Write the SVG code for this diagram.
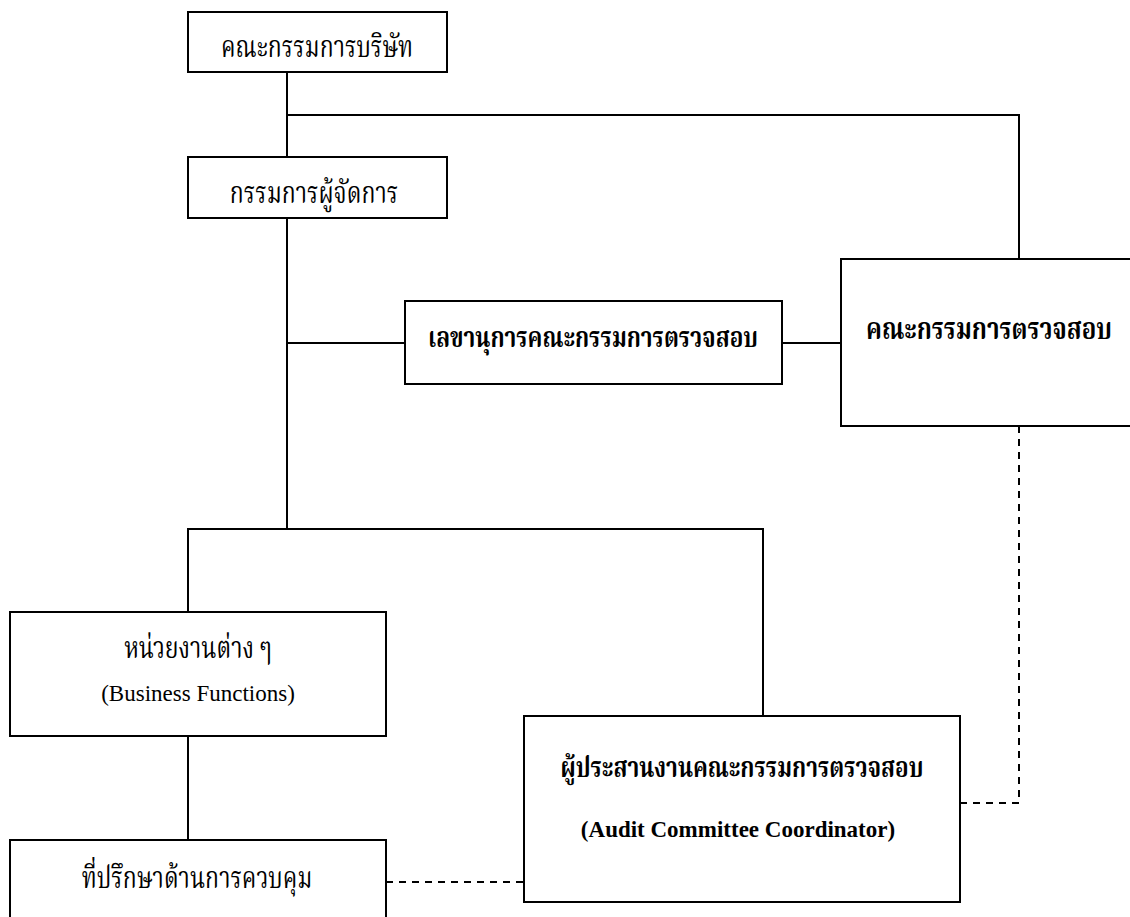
<svg xmlns="http://www.w3.org/2000/svg" width="1130" height="917" viewBox="0 0 1130 917">
<style>
.box{fill:#fff;stroke:#000;stroke-width:2}
.ln{fill:none;stroke:#000;stroke-width:2}
.dash{fill:none;stroke:#000;stroke-width:2;stroke-dasharray:7 6}
.th{font-family:"Liberation Serif","Noto Serif Thai","Noto Sans Thai",serif;font-size:23px;fill:#000;text-anchor:middle}
.thb{font-family:"Liberation Serif","Noto Serif Thai","Noto Sans Thai",serif;font-size:22.5px;font-weight:bold;fill:#000;text-anchor:middle}
.thbl{font-size:24px}
.en{font-family:"Liberation Serif",serif;font-size:23px;fill:#000;text-anchor:middle}
.enb{font-family:"Liberation Serif",serif;font-size:23px;font-weight:bold;fill:#000;text-anchor:middle}
</style>
<rect width="1130" height="917" fill="#fff"/>
<g id="connectors">
<path class="ln" d="M287 72V157M287 115H1019V259"/>
<path class="ln" d="M287 218V529M287 343H405M782 343H841"/>
<path class="ln" d="M188 612V529H763V716M188 736V840"/>
<path class="dash" d="M386 882H524"/>
<path class="dash" d="M960 803H1019V426"/>
</g>
<g id="board">
<rect class="box" x="188" y="12" width="259" height="60"/>
<text class="th" transform="translate(317 57) scale(1 1.28)">คณะกรรมการบริษัท</text>
</g>
<g id="md">
<rect class="box" x="188" y="157" width="259" height="61"/>
<text class="th" transform="translate(314 203) scale(1 1.28)">กรรมการผู้จัดการ</text>
</g>
<g id="secretary">
<rect class="box" x="405" y="301" width="377" height="83"/>
<text class="thb" transform="translate(593 347) scale(1 1.28)">เลขานุการคณะกรรมการตรวจสอบ</text>
</g>
<g id="audit-committee">
<rect class="box" x="841" y="259" width="300" height="167"/>
<text class="thb thbl" transform="translate(989 339) scale(1 1.28)">คณะกรรมการตรวจสอบ</text>
</g>
<g id="business-functions">
<rect class="box" x="10" y="612" width="376" height="124"/>
<text class="th" transform="translate(198 658) scale(1 1.28)">หน่วยงานต่าง ๆ</text>
<text class="en" x="198" y="701">(Business Functions)</text>
</g>
<g id="control-advisor">
<rect class="box" x="10" y="840" width="376" height="100"/>
<text class="th" transform="translate(197 888) scale(1 1.28)">ที่ปรึกษาด้านการควบคุม</text>
</g>
<g id="coordinator">
<rect class="box" x="524" y="716" width="436" height="186"/>
<text class="thb" transform="translate(742 777) scale(1 1.28)">ผู้ประสานงานคณะกรรมการตรวจสอบ</text>
<text class="enb" x="738" y="837">(Audit Committee Coordinator)</text>
</g>
</svg>
